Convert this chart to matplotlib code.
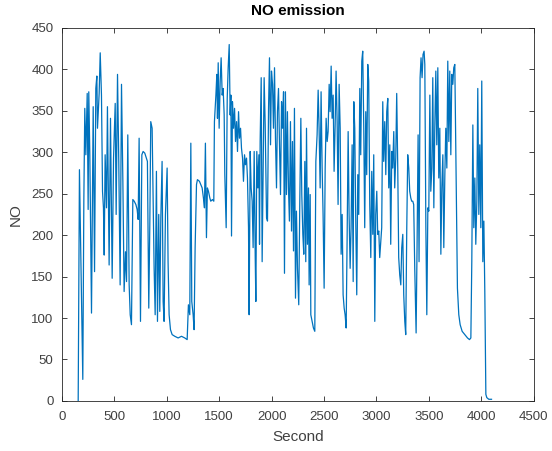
import matplotlib.pyplot as plt

# time stamps (s)
second = [
    156, 168, 200, 210, 219, 229, 242, 251, 257, 267, 283, 299, 312, 324, 334, 340,
    356, 366, 378, 388, 397, 404, 413, 426, 435, 451, 464, 480, 493, 509, 518, 531,
    543, 556, 569, 582, 594, 607, 617, 629, 642, 652, 664, 677, 690, 706, 718, 728,
    737, 750, 763, 775, 791, 816, 829, 839, 848, 861, 880, 890, 902, 912, 924, 934,
    944, 956, 966, 975, 988, 998, 1004, 1013, 1023, 1036, 1052, 1077, 1109, 1141, 1172, 1195,
    1207, 1220, 1230, 1239, 1252, 1261, 1271, 1284, 1293, 1312, 1325, 1338, 1350, 1360, 1369, 1379,
    1388, 1398, 1411, 1420, 1436, 1449, 1455, 1469, 1478, 1484, 1491, 1500, 1510, 1519, 1529, 1538,
    1548, 1554, 1567, 1577, 1586, 1596, 1605, 1612, 1618, 1627, 1637, 1647, 1656, 1666, 1675, 1685,
    1694, 1704, 1713, 1723, 1732, 1742, 1751, 1761, 1770, 1780, 1786, 1796, 1805, 1815, 1824, 1834,
    1844, 1850, 1859, 1869, 1879, 1885, 1891, 1901, 1910, 1920, 1929, 1939, 1952, 1961, 1971, 1980,
    1990, 1999, 2009, 2018, 2028, 2037, 2047, 2056, 2066, 2076, 2085, 2095, 2104, 2114, 2123, 2132,
    2142, 2151, 2161, 2170, 2180, 2190, 2199, 2209, 2218, 2228, 2237, 2247, 2259, 2269, 2279, 2288,
    2298, 2307, 2317, 2326, 2333, 2342, 2352, 2358, 2368, 2374, 2387, 2399, 2412, 2422, 2434, 2444,
    2453, 2463, 2472, 2482, 2491, 2501, 2511, 2520, 2530, 2539, 2549, 2558, 2568, 2577, 2587, 2596,
    2606, 2615, 2625, 2634, 2644, 2654, 2663, 2673, 2682, 2692, 2701, 2711, 2720, 2730, 2739, 2749,
    2758, 2768, 2778, 2784, 2793, 2803, 2812, 2822, 2831, 2841, 2850, 2860, 2869, 2879, 2888, 2898,
    2907, 2917, 2926, 2936, 2946, 2955, 2965, 2974, 2984, 2993, 3003, 3012, 3022, 3031, 3041, 3050,
    3060, 3069, 3079, 3089, 3098, 3108, 3117, 3127, 3136, 3146, 3155, 3165, 3174, 3184, 3193, 3203,
    3212, 3222, 3232, 3241, 3251, 3260, 3270, 3279, 3289, 3298, 3308, 3317, 3327, 3336, 3346, 3355,
    3365, 3378, 3387, 3397, 3406, 3416, 3425, 3435, 3444, 3454, 3461, 3471, 3480, 3490, 3499, 3509,
    3518, 3528, 3537, 3547, 3556, 3566, 3575, 3585, 3594, 3604, 3614, 3623, 3633, 3642, 3652, 3661,
    3671, 3680, 3690, 3699, 3709, 3718, 3728, 3737, 3747, 3757, 3763, 3772, 3785, 3798, 3817, 3842,
    3868, 3887, 3900, 3909, 3919, 3928, 3938, 3947, 3957, 3966, 3976, 3985, 3995, 4004, 4014, 4024,
    4033, 4043, 4052, 4071, 4097,
]

# NO emission values
no_value = [
    0, 279, 26, 243, 353, 297, 371, 231, 373, 297, 106, 355, 156, 377, 392, 329,
    371, 420, 369, 253, 233, 176, 297, 233, 355, 164, 341, 148, 293, 359, 225, 394,
    289, 140, 382, 265, 132, 180, 144, 321, 140, 104, 92, 243, 241, 237, 231, 219,
    317, 96, 297, 301, 299, 289, 112, 213, 337, 329, 160, 104, 277, 96, 225, 108,
    221, 289, 120, 96, 225, 261, 281, 168, 104, 86, 80, 78, 76, 78, 76, 74,
    116, 104, 311, 120, 104, 86, 185, 261, 267, 265, 261, 257, 245, 233, 311, 197,
    257, 253, 245, 241, 243, 241, 337, 369, 394, 341, 408, 329, 386, 414, 369, 377,
    345, 273, 209, 365, 402, 430, 345, 369, 199, 361, 329, 353, 313, 337, 301, 349,
    317, 329, 305, 293, 265, 297, 285, 293, 269, 209, 104, 301, 257, 241, 185, 301,
    173, 120, 301, 257, 297, 189, 313, 390, 168, 281, 390, 333, 221, 217, 353, 414,
    309, 398, 382, 329, 402, 317, 257, 349, 377, 305, 249, 361, 329, 373, 154, 373,
    249, 349, 257, 217, 337, 205, 313, 181, 353, 124, 229, 160, 116, 241, 341, 249,
    201, 177, 289, 168, 329, 189, 257, 140, 249, 104, 96, 88, 84, 289, 321, 375,
    329, 257, 373, 281, 225, 136, 281, 341, 313, 325, 382, 349, 404, 341, 369, 277,
    333, 398, 337, 237, 382, 329, 177, 225, 128, 112, 104, 88, 193, 325, 225, 160,
    209, 309, 144, 361, 329, 213, 128, 273, 225, 377, 297, 410, 422, 329, 209, 349,
    273, 406, 386, 237, 173, 277, 201, 297, 96, 225, 253, 201, 205, 173, 193, 209,
    361, 289, 337, 273, 349, 365, 257, 309, 189, 301, 281, 325, 257, 293, 371, 281,
    173, 152, 140, 185, 201, 128, 96, 80, 209, 297, 281, 253, 245, 241, 241, 237,
    160, 82, 185, 321, 168, 390, 414, 390, 418, 422, 406, 209, 104, 233, 229, 369,
    253, 281, 390, 233, 329, 398, 309, 402, 269, 329, 177, 257, 297, 185, 273, 329,
    281, 410, 313, 398, 297, 394, 382, 402, 406, 297, 225, 136, 104, 92, 84, 80,
    76, 74, 76, 168, 333, 209, 269, 189, 241, 377, 225, 309, 209, 386, 168, 217,
    132, 8, 4, 2, 2,
]

plt.rcParams['font.family'] = ['Liberation Sans', 'DejaVu Sans']

fig = plt.figure(figsize=(5.52, 4.51), dpi=100)
ax = fig.add_axes([0.112, 0.111, 0.855, 0.827])

ax.plot(second, no_value, color='#0072BD', linewidth=0.9)

ax.set_xlim(0, 4500)
ax.set_ylim(0, 450)
ax.set_xticks(range(0, 4501, 500))
ax.set_yticks(range(0, 451, 50))

# matlab style axes: ticks inside on all four sides, grey text
axis_grey = '#262626'
for side in ax.spines.values():
    side.set_color(axis_grey)
    side.set_linewidth(0.6)
ax.tick_params(direction='in', top=True, right=True, length=3.5, width=0.6,
               colors=axis_grey, labelcolor='#404040', labelsize=9.5)
ax.tick_params(axis='x', pad=7)
ax.tick_params(axis='y', pad=6)

ax.set_title('NO emission', fontsize=11, fontweight='bold', color='black', pad=9)
ax.set_xlabel('Second', fontsize=11, color='#404040', labelpad=5)
ax.set_ylabel('NO', fontsize=11, color='#404040', labelpad=6)

fig.savefig('out.png', dpi=100)
